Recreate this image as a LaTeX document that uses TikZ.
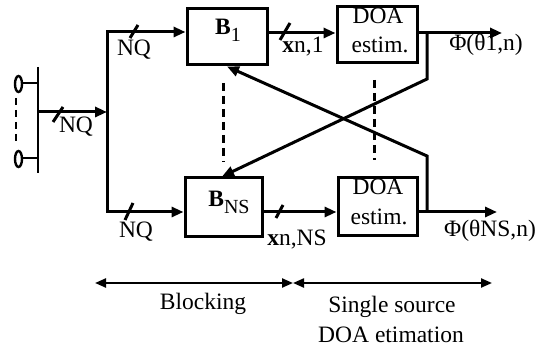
\documentclass[tikz,border=0pt]{standalone}
\usepackage{fontspec}
\setmainfont{Liberation Serif}
\usetikzlibrary{arrows.meta}
\begin{document}
\begin{tikzpicture}[x=1pt,y=-1pt,
  line width=3pt,
  every node/.style={font=\fontsize{23.5}{23.5}\selectfont, inner sep=0pt},
  arr/.style={-{Triangle[length=12pt,width=10pt]}},
  blk/.style={draw, line width=3pt, minimum width=80pt, minimum height=56pt, inner sep=0pt},
  slash/.style={line width=3pt},
  dsh/.style={line width=3pt, dash pattern=on 8pt off 5pt},
  dimarr/.style={line width=2.2pt, {Triangle[length=11pt,width=9pt]}-{Triangle[length=11pt,width=9pt]}}]
\useasboundingbox (0,0) rectangle (540,347);

% boxes
\node[blk] (B1) at (227,37) {};
\node[blk, minimum width=77pt, minimum height=58pt] (BNS) at (223.5,207) {};
\node[blk] (DOA1) at (377,35) {};
\node[blk, minimum width=79pt, minimum height=57pt] (DOANS) at (377.5,206.5) {};

% box texts
\node (B1t) at (228,30) {\textbf{B}\raisebox{-0.3em}{\fontsize{20}{20}\selectfont 1}};
\node (BNSt) at (229,202) {\textbf{B}\raisebox{-0.3em}{\fontsize{20}{20}\selectfont NS}};
\node (D1a) at (378,16) {DOA};
\node (D1b) at (380,45) {estim.};
\node (D2a) at (378,187) {DOA};
\node (D2b) at (379,217) {estim.};

% antenna array
\coordinate (busT) at (38,67);
\coordinate (busB) at (38,173);
\coordinate (st1) at (22,83);
\coordinate (st2) at (22,158);
\draw[line width=2.4pt] (busT) -- (busB);
\draw[line width=2.4pt] (st1) -- (st1 -| busT);
\draw[line width=2.4pt] (st2) -- (st2 -| busT);
\draw[line width=2.4pt, fill=white] (18.5,84) ellipse [x radius=3.5, y radius=8];
\draw[line width=2.4pt, fill=white] (18.5,159) ellipse [x radius=3.5, y radius=8];
\coordinate (ad1) at (16,98);
\coordinate (ad2) at (16,143);
\draw[line width=2.6pt, dash pattern=on 7pt off 5pt] (ad1) -- (ad2);

% input distribution
\coordinate (bus1) at (38,112);
\coordinate (split) at (107,112);
\draw[arr] (bus1) -- (split);
\draw[arr] (split) |- ([yshift=5pt]B1.west);
\draw[arr] (split) |- ([yshift=-5pt]BNS.west);

% blocking outputs
\draw[arr] ([yshift=4pt]B1.east) -- ([yshift=4pt]B1.east -| DOA1.west);
\draw[arr] ([yshift=-5pt]BNS.east) -- ([yshift=-5pt]BNS.east -| DOANS.west);

% DOA outputs
\coordinate (phi1) at (502,33);
\coordinate (phiNS) at (497,212);
\draw[arr] (DOA1.east |- phi1) -- (phi1);
\draw[arr] (DOANS.east |- phiNS) -- (phiNS);

% feedback cross
\coordinate (k1) at (427,33);
\coordinate (k1b) at (427,79);
\coordinate (k2) at (427,212);
\coordinate (k2b) at (427,156);
\draw[arr] (k1) -- (k1b) -- ([xshift=-1.5pt]BNS.north);
\draw[arr] (k2) -- (k2b) -- (B1.south);

% dashed ellipsis lines
\coordinate (d1a) at (223,83);
\coordinate (d1b) at (223,162);
\coordinate (d2a) at (374,80);
\coordinate (d2b) at (374,160);
\draw[dsh] (d1a) -- (d1b);
\draw[dsh] (d2a) -- (d2b);

% bus-width slashes
\draw[slash] (53,122) -- (63,107);
\draw[slash] (130,38) -- (138,25);
\draw[slash] (125,220) -- (133,203);
\draw[slash] (280,40) -- (290,23);
\draw[slash] (276,218) -- (283,205);

% labels
\node (nq0) at (76,127) {NQ};
\node (nq1) at (134,50) {NQ};
\node (nq2) at (136,232) {NQ};
\node (x1) at (303,47) {\textbf{x}n,1};
\node (xNS) at (297,240) {\textbf{x}n,NS};
\node (p1) at (486,45) {Φ(θ1,n)};
\node (pNS) at (490,231) {Φ(θNS,n)};

% bottom ranges
\coordinate (bl) at (95,283);
\coordinate (bm) at (293,283);
\coordinate (br) at (492,283);
\draw[dimarr] (bl) -- (bm);
\draw[dimarr] (bm) -- (br);
\node (blk) at (203,304) {Blocking};
\node (ss1) at (392,307) {Single source};
\node (ss2) at (391,335) {DOA etimation};
\end{tikzpicture}
\end{document}
